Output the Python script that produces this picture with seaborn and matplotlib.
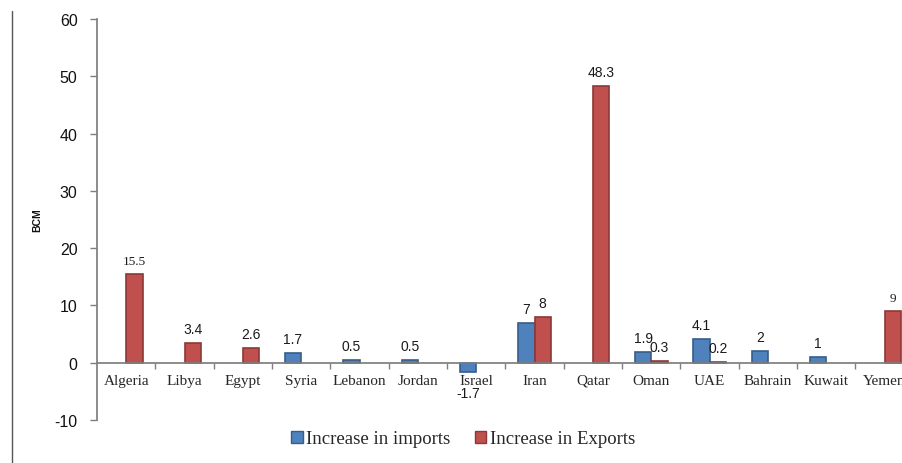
import matplotlib
matplotlib.use("Agg")
import matplotlib.pyplot as plt
import seaborn as sns
import numpy as np
import pandas as pd
from matplotlib.lines import Line2D

countries = ["Algeria", "Libya", "Egypt", "Syria", "Lebanon", "Jordan", "Israel",
             "Iran", "Qatar", "Oman", "UAE", "Bahrain", "Kuwait", "Yemen"]
imports = [np.nan, np.nan, np.nan, 1.7, 0.5, 0.5, -1.7, 7, np.nan, 1.9, 4.1, 2, 1, np.nan]
exports = [15.5, 3.4, 2.6, np.nan, np.nan, np.nan, np.nan, 8, 48.3, 0.3, 0.2, np.nan, np.nan, 9]
series = ["Increase in imports", "Increase in Exports"]
y_ticks = [-10, 0, 10, 20, 30, 40, 50, 60]
y_label = "BCM"

sns.set_theme(style="white")
plt.rcParams["font.family"] = ["Liberation Serif", "DejaVu Serif"]
plt.rcParams["axes.unicode_minus"] = False

SANS = ["Liberation Sans", "DejaVu Sans"]
SERIF = ["Liberation Serif", "DejaVu Serif"]
serif_labels = {("Algeria", series[1]), ("Yemen", series[1])}

n = len(countries)
df = pd.DataFrame({
    "country": countries * 2,
    "series": [series[0]] * n + [series[1]] * n,
    "value": imports + exports,
}).dropna()

fig = plt.figure(figsize=(9.03, 4.64), dpi=100)
ax = fig.add_axes([97 / 903, 43 / 464, 816.7 / 903, 401 / 464])

palette = {series[0]: "#4F81BD", series[1]: "#C0504D"}
edges = {series[0]: "#385D8A", series[1]: "#8C3836"}

sns.barplot(data=df, x="country", y="value", hue="series", order=countries,
            hue_order=series, palette=palette, width=0.56, saturation=1,
            errorbar=None, ax=ax)

for cont, s in zip(ax.containers, series):
    for bar in cont:
        bar.set_edgecolor(edges[s])
        bar.set_linewidth(1.2)
    texts = ax.bar_label(cont, fmt="%g", padding=5, fontsize=10, color="#1a1a1a")
    sub = df[df["series"] == s]
    for t, c, v in zip(texts, sub["country"], sub["value"]):
        if (c, s) in serif_labels:
            t.set_family(SERIF)
            t.set_fontsize(9.5)
        else:
            t.set_family(SANS)
        if v < 0:
            t.xyann = (0, -9.5)

ax.set_xlim(-0.5, n - 0.5)
ax.set_ylim(-10, 60)
ax.set_yticks(y_ticks)
ax.set_xticks(range(n))
ax.set_xticklabels(countries, fontsize=9.5, color="#111111")
ax.set_xticks(np.arange(0.5, n - 0.5, 1), minor=True)
ax.tick_params(axis="x", which="major", length=0, pad=8)
ax.tick_params(axis="x", which="minor", length=4, width=1, color="#7f7f7f",
               direction="out", bottom=True)
ax.tick_params(axis="y", length=5, width=1, color="#7f7f7f", direction="out",
               left=True, pad=9, labelsize=11.5, labelcolor="#111111")
for lab in ax.get_yticklabels():
    lab.set_family(SANS)

for sp in ["top", "right"]:
    ax.spines[sp].set_visible(False)
ax.spines["left"].set_color("#7f7f7f")
ax.spines["bottom"].set_color("#7f7f7f")
ax.spines["bottom"].set_position(("data", 0))
ax.set_xlabel("")
ax.set_ylabel(y_label, fontsize=7.5, fontweight="bold", family=SANS, color="#111111")
ax.yaxis.set_label_coords(-0.067, 0.5)

handles, labels = ax.get_legend_handles_labels()
if ax.get_legend() is not None:
    ax.get_legend().remove()
leg = fig.legend(handles, labels, loc="center", bbox_to_anchor=(0.513, 0.052),
                 ncol=2, frameon=False, handlelength=0.6, handleheight=0.6,
                 handletextpad=0.2, columnspacing=1.3,
                 prop={"family": SERIF, "size": 13.5})
for h, s in zip(leg.legend_handles, series):
    h.set_edgecolor(edges[s])

fig.add_artist(Line2D([12 / 903, 12 / 903], [0, 1 - 12 / 464],
                      transform=fig.transFigure, color="#555555", lw=1))

fig.savefig("out.png", dpi=100)
